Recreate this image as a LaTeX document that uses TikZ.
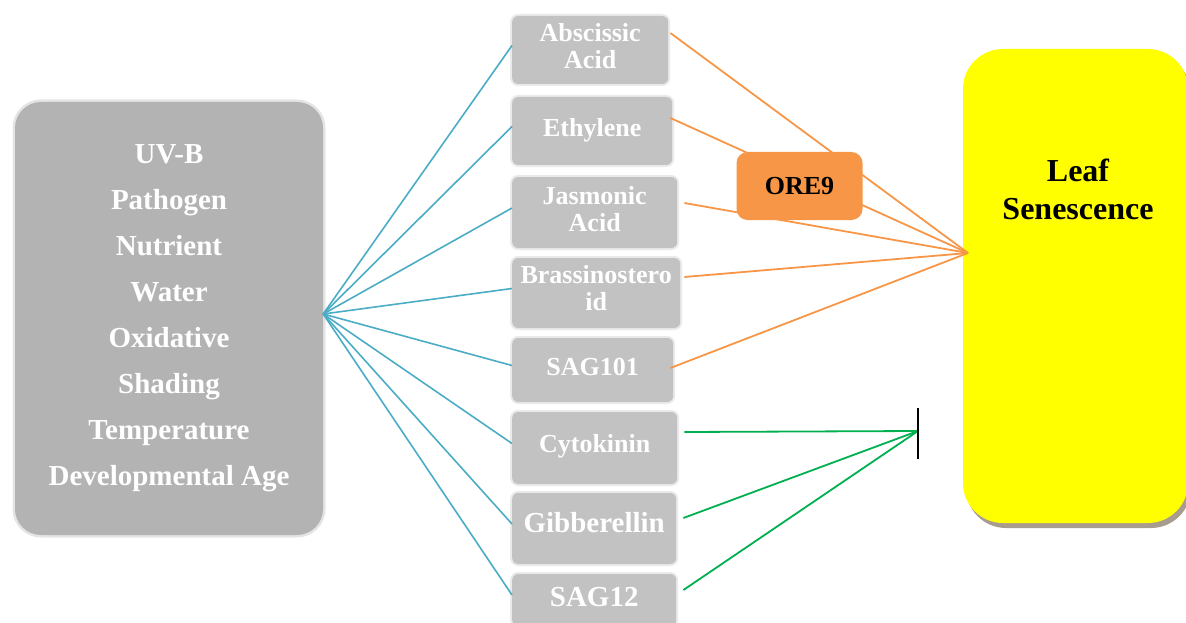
\documentclass[tikz,border=0pt]{standalone}
\usepackage{fontspec}
\setmainfont{Liberation Serif}
\definecolor{envgray}{HTML}{B3B3B3}
\definecolor{boxgray}{HTML}{C2C2C2}
\definecolor{oreorange}{HTML}{F79646}
\definecolor{linkblue}{HTML}{4BACC6}
\definecolor{inhgreen}{HTML}{00B050}
\definecolor{leafyellow}{HTML}{FFFF00}
\definecolor{leafshadow}{HTML}{A89C8E}
\begin{document}
\begin{tikzpicture}[x=1pt,y=-1pt,
  envbox/.style={fill=envgray, rounded corners=26pt, minimum width=308pt, minimum height=433pt,
    text=white, font=\bfseries\fontsize{29}{46}\selectfont, align=center, inner sep=0pt,
    preaction={draw=envgray, line width=5pt, opacity=0.35}},
  hormone/.style={fill=boxgray, rounded corners=6pt, minimum height=68pt, anchor=west,
    text=white, font=\bfseries\fontsize{26}{27}\selectfont, align=center, inner sep=0pt,
    text depth=8pt,
    preaction={draw=boxgray, line width=4pt, opacity=0.35}},
  orebox/.style={fill=oreorange, rounded corners=11pt, minimum width=126pt, minimum height=68pt,
    text=black, font=\bfseries\fontsize{26}{27}\selectfont, inner sep=0pt},
  leafbox/.style={fill=leafyellow, rounded corners=40pt, minimum width=225pt, minimum height=474pt, inner sep=0pt},
  leaftext/.style={text=black, font=\bfseries\fontsize{32}{38}\selectfont, align=center, inner sep=0pt},
  bluelink/.style={draw=linkblue, line width=1.6pt},
  orangelink/.style={draw=oreorange, line width=1.8pt},
  greenlink/.style={draw=inhgreen, line width=1.8pt},
  inhbar/.style={draw=black, line width=2pt}
]
\useasboundingbox (0,0) rectangle (1186,623);

% environment factors
\node[envbox] (env) at (169,318.5) {UV-B\\Pathogen\\Nutrient\\Water\\Oxidative\\Shading\\Temperature\\Developmental Age};

% hormones and genes
\node[hormone, minimum width=156pt] (abs) at (512,50) {Abscissic\\Acid};
\node[hormone, minimum width=160pt, text depth=8pt] (eth) at (512,131) {Ethylene};
\node[hormone, minimum width=165pt, minimum height=71pt] (jas) at (512,212.5) {Jasmonic\\Acid};
\node[hormone, minimum width=168pt, minimum height=70pt, text depth=10pt] (bra) at (512,293) {Brassinostero\\id};
\node[hormone, minimum width=161pt, minimum height=64pt, text depth=6pt] (sagA) at (512,370) {SAG101};
\node[hormone, minimum width=165pt, minimum height=72pt, text depth=10pt] (cyto) at (512,448) {Cytokinin};
\node[hormone, minimum width=164pt, minimum height=71pt, text depth=12pt, font=\bfseries\fontsize{29}{30}\selectfont] (gib) at (512,528.5) {Gibberellin};
\node[hormone, minimum width=164pt, minimum height=52pt, text depth=6pt, font=\bfseries\fontsize{29}{30}\selectfont] (sagB) at (512,600) {SAG12};

% leaf senescence
\node[leafbox, fill=leafshadow] at (1078.5,291) {};
\node[leafbox] (leaf) at (1075.5,286) {};
\node[leaftext] (leaflabel) at (1078,189) {Leaf\\Senescence};

% convergence points
\coordinate (conv) at (968,253);
\coordinate (inh) at (918,431);

% blue connectors
\foreach \n in {abs,eth,jas,bra,sagA,cyto,gib}
  \draw[bluelink] ([yshift=4.5pt]env.east) -- ([yshift=4.5pt]\n.west);
\draw[bluelink] ([yshift=4.5pt]env.east) -- ([yshift=5pt]sagB.west);

% orange connectors
\draw[orangelink] ([shift={(2pt,17pt)}]abs.east) -- (conv);
\draw[orangelink] ([shift={(-2pt,13pt)}]eth.east) -- (conv);
\draw[orangelink] ([shift={(7pt,9.5pt)}]jas.east) -- (conv);
\draw[orangelink] ([shift={(4pt,16pt)}]bra.east) -- (conv);
\draw[orangelink] ([shift={(-3pt,2pt)}]sagA.east) -- (conv);

% ORE9 on top of the lines
\node[orebox] (ore) at (799.5,186) {ORE9};

% green connectors with inhibition bar
\draw[greenlink] ([shift={(7pt,16pt)}]cyto.east) -- (inh);
\draw[greenlink] ([shift={(7pt,10.5pt)}]gib.east) -- (inh);
\draw[greenlink] ([shift={(7pt,10pt)}]sagB.east) -- (inh);
\draw[inhbar] ([yshift=23pt]inh) -- ([yshift=-28pt]inh);
\end{tikzpicture}
\end{document}
